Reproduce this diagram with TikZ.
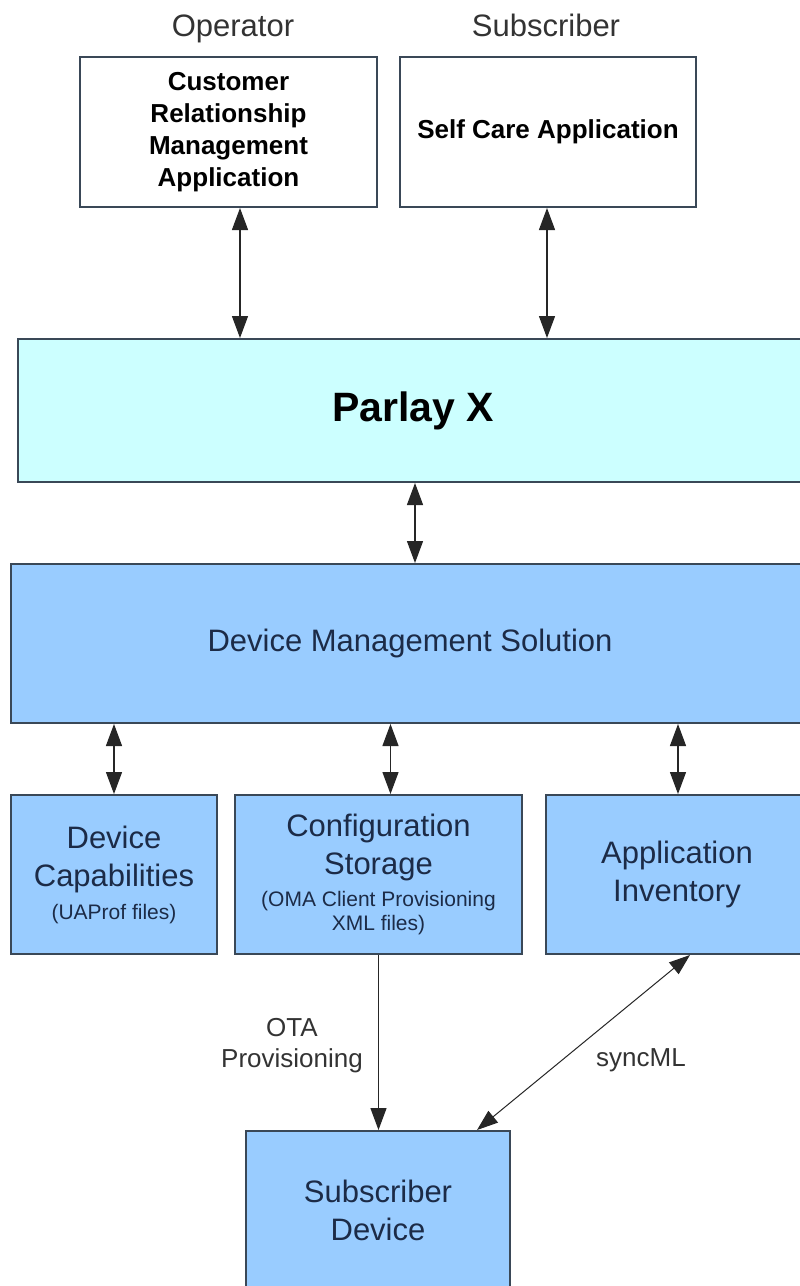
\documentclass[tikz,border=0pt]{standalone}
\usepackage{fontspec}
\setmainfont{Liberation Sans}
\usetikzlibrary{arrows.meta}

\definecolor{edge}{HTML}{3A4857}
\definecolor{parlayfill}{HTML}{CCFFFF}
\definecolor{blockfill}{HTML}{99CCFF}
\definecolor{navytext}{HTML}{1C2B47}
\definecolor{greytext}{HTML}{333333}

\tikzset{
  whitebox/.style={draw=edge, line width=2pt, fill=white, align=center,
    text=black, inner sep=0pt, font=\fontsize{26}{32}\selectfont\bfseries},
  cyanbox/.style={draw=edge, line width=2pt, fill=parlayfill, align=center,
    text=black, inner sep=0pt, font=\fontsize{41}{48}\selectfont\bfseries},
  bluebox/.style={draw=edge, line width=2pt, fill=blockfill, align=center,
    text=navytext, inner sep=0pt, font=\fontsize{31}{38}\selectfont},
  rolelabel/.style={anchor=base, text=greytext, inner sep=0pt,
    font=\fontsize{31}{36}\selectfont},
  linklabel/.style={align=center, text=greytext, inner sep=0pt,
    font=\fontsize{26}{31}\selectfont},
  dbl/.style={line width=1.3pt, draw=black!85,
    {Triangle[length=22pt,width=16pt]}-{Triangle[length=22pt,width=16pt]}},
  single/.style={line width=1.3pt, draw=black!85,
    -{Triangle[length=22pt,width=16pt]}},
  thindbl/.style={line width=1pt, draw=black!85,
    {Triangle[length=21pt,width=15pt]}-{Triangle[length=21pt,width=15pt]}},
}

\newcommand{\smalltxt}{\fontsize{21}{24}\selectfont}

\begin{document}
\begin{tikzpicture}[x=1pt, y=-1pt]
  \useasboundingbox (0,0) rectangle (800,1286);
  \clip (0,0) rectangle (800,1286);
  \fill[white] (0,0) rectangle (800,1286);

  % actors
  \node[rolelabel] (oplabel) at (233,36) {Operator};
  \node[rolelabel] (sublabel) at (546,36) {Subscriber};

  % applications
  \node[whitebox, minimum width=297pt, minimum height=150pt] (crm) at (228.5,132)
    {Customer\\Relationship\\Management\\Application};
  \node[whitebox, minimum width=296pt, minimum height=150pt] (self) at (548,132)
    {Self Care Application};

  % Parlay X gateway
  \node[cyanbox, minimum width=790pt, minimum height=143pt] (parlay) at (413,410.5)
    {Parlay X};

  % device management platform
  \node[bluebox, minimum width=798pt, minimum height=159pt] (dms) at (410,643.5)
    {Device Management Solution};

  % repositories
  \node[bluebox, minimum width=206pt, minimum height=159pt] (cap) at (114,874.5)
    {Device\\Capabilities\\[-5pt]{\smalltxt (UAProf files)}};
  \node[bluebox, minimum width=287pt, minimum height=159pt] (cfg) at (378.5,874.5)
    {Configuration\\Storage\\[-6pt]{\smalltxt (OMA Client Provisioning}\\[-14pt]{\smalltxt XML files)}};
  \node[bluebox, minimum width=262pt, minimum height=159pt] (inv) at (677,874.5)
    {Application\\Inventory};

  % handset
  \node[bluebox, minimum width=264pt, minimum height=158pt] (sub) at (378,1210)
    {Subscriber\\Device};

  % connectors
  \draw[dbl] ([xshift=11.5pt]crm.south) -- ([xshift=11.5pt]crm.south |- parlay.north);
  \draw[dbl] ([xshift=-1pt]self.south) -- ([xshift=-1pt]self.south |- parlay.north);
  \draw[dbl] ([xshift=2pt]parlay.south) -- ([xshift=2pt]parlay.south |- dms.north);
  \draw[dbl] (cap.north |- dms.south) -- (cap.north);
  \draw[dbl] ([xshift=12pt]cfg.north |- dms.south) -- ([xshift=12pt]cfg.north);
  \draw[dbl] ([xshift=1pt]inv.north |- dms.south) -- ([xshift=1pt]inv.north);
  \draw[single] (cfg.south) -- (cfg.south |- sub.north);
  \draw[thindbl] ([xshift=13pt]inv.south) -- ([xshift=99pt]sub.north);

  % link labels
  \node[linklabel] (ota) at (292,1046) {OTA\\Provisioning};
  \node[linklabel] (sync) at (641,1060) {syncML};
\end{tikzpicture}
\end{document}
